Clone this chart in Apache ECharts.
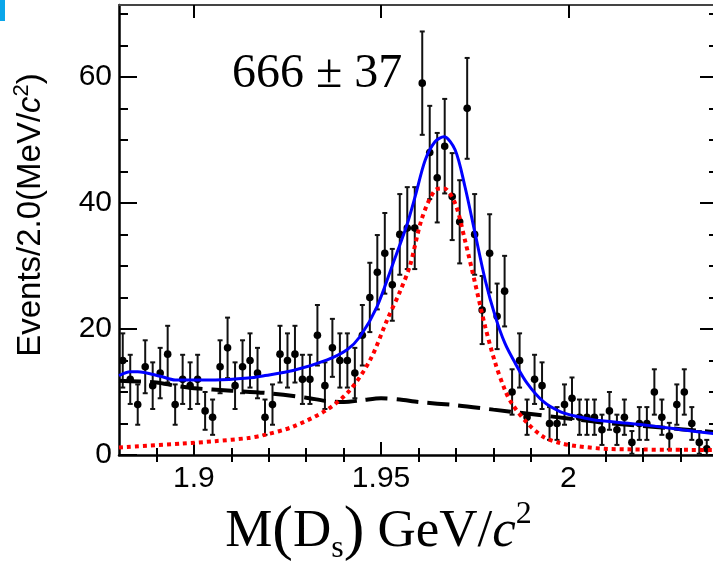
<!DOCTYPE html>
<html>
<head>
<meta charset="utf-8">
<script src="https://cdn.jsdelivr.net/npm/echarts@6/dist/echarts.min.js"></script>
<style>
  html, body { margin: 0; padding: 0; background: #fff; }
  #chart { width: 713px; height: 566px; }
</style>
</head>
<body>
<div id="chart"></div>
<script>
// Bin centres of the D_s candidate mass histogram (GeV/c^2, 2 MeV bins)
const binCenters = [
  1.881, 1.883, 1.885, 1.887, 1.889, 1.891, 1.893, 1.895, 1.897, 1.899,
  1.901, 1.903, 1.905, 1.907, 1.909, 1.911, 1.913, 1.915, 1.917, 1.919,
  1.921, 1.923, 1.925, 1.927, 1.929, 1.931, 1.933, 1.935, 1.937, 1.939,
  1.941, 1.943, 1.945, 1.947, 1.949, 1.951, 1.953, 1.955, 1.957, 1.959,
  1.961, 1.963, 1.965, 1.967, 1.969, 1.971, 1.973, 1.975, 1.977, 1.979,
  1.981, 1.983, 1.985, 1.987, 1.989, 1.991, 1.993, 1.995, 1.997, 1.999,
  2.001, 2.003, 2.005, 2.007, 2.009, 2.011, 2.013, 2.015, 2.017, 2.019,
  2.021, 2.023, 2.025, 2.027, 2.029, 2.031, 2.033, 2.035, 2.037
];
// Events per bin
const counts = [
  15, 12, 8, 14, 11, 13, 16, 8, 12, 11,
  12, 7, 6, 14, 17, 11, 14, 15, 13, 6,
  8, 16, 15, 16, 12, 12, 19, 11, 17, 15,
  15, 13, 19, 25, 29, 32, 27, 35, 36, 36,
  59, 48, 44, 49, 41, 37, 55, 35, 23, 32,
  22, 26, 10, 15, 6, 12, 11, 5, 5, 8,
  9, 6, 6, 6, 4, 7, 4, 6, 2, 5,
  5, 10, 6, 3, 8, 10, 5, 2, 1
];
// Statistical uncertainty per bin
const errors = [
  4.3, 3.9, 3.2, 4.2, 3.7, 4.0, 4.5, 3.2, 3.9, 3.7,
  3.9, 3.0, 2.8, 4.2, 4.8, 3.7, 4.2, 4.3, 4.0, 2.8,
  3.2, 4.5, 4.3, 4.5, 3.9, 3.9, 4.8, 3.7, 4.6, 4.3,
  4.3, 4.0, 4.8, 5.5, 5.9, 6.4, 5.7, 6.4, 6.5, 6.5,
  8.2, 7.4, 7.1, 7.5, 6.9, 6.6, 8.0, 6.4, 5.4, 6.2,
  5.2, 5.6, 3.6, 4.3, 2.8, 3.9, 3.7, 2.6, 2.6, 3.2,
  3.3, 2.8, 2.8, 2.8, 2.4, 3.0, 2.4, 2.8, 1.8, 2.6,
  2.6, 3.6, 2.8, 2.1, 3.2, 3.6, 2.6, 1.8, 1.4
];

// Total fit (signal + background)
const totalX = [1.880, 1.883, 1.885, 1.891, 1.895, 1.9057, 1.9145, 1.919, 1.9265, 1.9356,
                1.9409, 1.9444, 1.9489, 1.9532, 1.9569, 1.9591, 1.9618, 1.9644, 1.9668, 1.9698,
                1.9724, 1.9751, 1.9778, 1.9805, 1.9831, 1.9858, 1.9890, 1.9933, 1.9978, 2.0024,
                2.0066, 2.0130, 2.0213, 2.0304, 2.040];
const totalY = [12.6, 13.2, 13.2, 12.5, 11.9, 11.9, 12.2, 12.6, 13.4, 15.1,
                16.7, 18.8, 23.5, 30.4, 36.5, 41.0, 46.8, 49.7, 50.5, 48.4,
                42.6, 35.2, 27.8, 22.0, 17.7, 14.6, 11.4, 8.5, 6.9, 6.1,
                5.6, 5.2, 4.7, 4.0, 3.3];

// Signal shape
const signalX = [1.880, 1.8968, 1.9057, 1.9145, 1.919, 1.9265, 1.9356, 1.9417, 1.9471, 1.9516,
                 1.9551, 1.9577, 1.9609, 1.9644, 1.9668, 1.9698, 1.9724, 1.9751, 1.9778, 1.9805,
                 1.9831, 1.9850, 1.9890, 1.9933, 1.9978, 2.0024, 2.0112, 2.040];
const signalY = [1.2, 1.8, 2.2, 2.7, 3.2, 4.5, 7.2, 10.3, 15.1, 21.4,
                 26.0, 30.0, 37.5, 42.0, 42.3, 39.9, 34.1, 27.3, 20.4, 14.6,
                 10.3, 8.1, 5.1, 2.9, 1.9, 1.4, 0.95, 0.8];

// Background shape
const bkgX = [1.880, 1.890, 1.895, 1.900, 1.910, 1.920, 1.930, 1.935, 1.940, 1.945,
              1.950, 1.955, 1.960, 1.970, 1.980, 1.990, 2.000, 2.010, 2.020, 2.030, 2.040];
const bkgY = [11.8, 11.5, 11.0, 10.6, 10.2, 9.8, 9.1, 8.6, 8.4, 8.7,
              9.0, 8.8, 8.4, 7.9, 7.2, 6.5, 5.8, 5.1, 4.6, 4.1, 3.6];

// Tick positions
const xMajorTicks = [1.9, 1.95, 2.0];
const xMinorTicks = [1.89, 1.91, 1.92, 1.93, 1.94, 1.96, 1.97, 1.98, 1.99, 2.01, 2.02, 2.03];
const yMajorTicks = [0, 20, 40, 60];
const yMinorTicks = [5, 10, 15, 25, 30, 35, 45, 50, 55, 65, 70];

const X_MIN = 1.88, X_MAX = 2.04, Y_MIN = 0, Y_MAX = 71.4;

const zip = (xs, ys) => xs.map((x, i) => [x, ys[i]]);

function renderPoint(params, api) {
  const x = api.value(0), y = api.value(1), e = api.value(2);
  const c = api.coord([x, y]);
  const hi = api.coord([x, y + e]);
  const lo = api.coord([x, Math.max(y - e, 0)]);
  const cap = 2.5;
  const st = { stroke: '#111', lineWidth: 2 };
  return {
    type: 'group',
    children: [
      { type: 'line', shape: { x1: c[0], y1: hi[1], x2: c[0], y2: lo[1] }, style: st },
      { type: 'line', shape: { x1: c[0] - cap, y1: hi[1], x2: c[0] + cap, y2: hi[1] }, style: st },
      { type: 'line', shape: { x1: c[0] - cap, y1: lo[1], x2: c[0] + cap, y2: lo[1] }, style: st },
      { type: 'circle', shape: { cx: c[0], cy: c[1], r: 3.8 }, style: { fill: '#000' } }
    ]
  };
}

const axisLineStyle = { color: '#000', width: 2.5 };
const tickStyle = { color: '#000', width: 2 };
const sans = 'Liberation Sans';
const serif = 'Liberation Serif';

function xAxisDef(pos, ticks, len, labels, extra) {
  return Object.assign({
    type: 'value', gridIndex: 0, position: pos, min: X_MIN, max: X_MAX,
    axisLine: { show: true, onZero: false, lineStyle: axisLineStyle },
    axisTick: { show: true, inside: true, length: len, customValues: ticks, lineStyle: tickStyle },
    axisLabel: labels
      ? { show: true, customValues: ticks, fontSize: 30, fontFamily: sans, color: '#000', margin: 9 }
      : { show: false },
    splitLine: { show: false }
  }, extra || {});
}
function yAxisDef(pos, ticks, len, labels, extra) {
  return Object.assign({
    type: 'value', gridIndex: 0, position: pos, min: Y_MIN, max: Y_MAX,
    axisLine: { show: true, onZero: false, lineStyle: axisLineStyle },
    axisTick: { show: true, inside: true, length: len, customValues: ticks, lineStyle: tickStyle },
    axisLabel: labels
      ? { show: true, customValues: ticks, fontSize: 30, fontFamily: sans, color: '#000', margin: 7 }
      : { show: false },
    splitLine: { show: false }
  }, extra || {});
}

const chart = echarts.init(document.getElementById('chart'), null, { renderer: 'canvas' });

chart.setOption({
  backgroundColor: '#fff',
  animation: false,
  grid: { left: 119, top: 5, width: 599, height: 450, containLabel: false, outerBoundsMode: 'none' },
  xAxis: [
    xAxisDef('bottom', xMajorTicks, 13, true, {
      name: '{t|M}{p|(}{t|D}{sub|s}{p|)}{t| GeV/}{it|c}{sup|2}',
      nameLocation: 'middle',
      nameGap: 44,
      nameTextStyle: {
        padding: [0, 80, 0, 0],
        rich: {
          t: { fontFamily: serif, fontSize: 53, color: '#000', lineHeight: 66 },
          p: { fontFamily: serif, fontSize: 62, color: '#000', lineHeight: 66 },
          sub: { fontFamily: serif, fontSize: 32, color: '#000', lineHeight: 30, verticalAlign: 'bottom' },
          it: { fontFamily: serif, fontStyle: 'italic', fontSize: 53, color: '#000', lineHeight: 66 },
          sup: { fontFamily: serif, fontSize: 32, color: '#000', lineHeight: 30, verticalAlign: 'top' }
        }
      }
    }),
    xAxisDef('bottom', xMinorTicks, 7, false, { axisLine: { show: false } }),
    xAxisDef('top', xMajorTicks, 13, false, { axisLine: { show: true, onZero: false, lineStyle: { color: '#444', width: 2 } } }),
    xAxisDef('top', xMinorTicks, 7, false, { axisLine: { show: false } })
  ],
  yAxis: [
    yAxisDef('left', yMajorTicks, 18, true, {
      name: '{a|Events/2.0(MeV/}{i|c}{s|2}{a|)}',
      nameLocation: 'middle',
      nameRotate: 90,
      nameGap: 68,
      nameTextStyle: {
        padding: [0, 0, 0, 30],
        rich: {
          a: { fontFamily: sans, fontSize: 33, color: '#000', lineHeight: 40 },
          i: { fontFamily: sans, fontStyle: 'italic', fontSize: 33, color: '#000', lineHeight: 40 },
          s: { fontFamily: sans, fontSize: 22, color: '#000', lineHeight: 22, verticalAlign: 'top' }
        }
      }
    }),
    yAxisDef('left', yMinorTicks, 9, false, { axisLine: { show: false } }),
    yAxisDef('right', yMajorTicks, 18, false),
    yAxisDef('right', yMinorTicks, 9, false, { axisLine: { show: false } })
  ],
  series: [
    {
      name: 'Data',
      type: 'custom',
      xAxisIndex: 0, yAxisIndex: 0,
      renderItem: renderPoint,
      encode: { x: 0, y: 1 },
      data: binCenters.map((x, i) => [x, counts[i], errors[i]]),
      clip: true,
      z: 2
    },
    {
      name: 'Background',
      type: 'line',
      xAxisIndex: 0, yAxisIndex: 0,
      data: zip(bkgX, bkgY),
      smooth: 0.3,
      showSymbol: false,
      lineStyle: { color: '#000', width: 4, type: [22, 9] },
      z: 3
    },
    {
      name: 'Signal',
      type: 'line',
      xAxisIndex: 0, yAxisIndex: 0,
      data: zip(signalX, signalY),
      smooth: 0.3,
      showSymbol: false,
      lineStyle: { color: '#ff0000', width: 4, type: [4, 4], cap: 'butt' },
      z: 4
    },
    {
      name: 'Total fit',
      type: 'line',
      xAxisIndex: 0, yAxisIndex: 0,
      data: zip(totalX, totalY),
      smooth: 0.3,
      showSymbol: false,
      lineStyle: { color: '#0000ff', width: 3 },
      z: 5
    }
  ],
  graphic: [
    { type: 'rect', left: 0, top: 0, shape: { width: 5, height: 21 }, style: { fill: '#0aa6ea' } },
    {
      type: 'text', x: 232, y: 74,
      style: {
        text: '666 \u00b1 37', fontFamily: serif, fontSize: 48, fill: '#000',
        textAlign: 'left', textVerticalAlign: 'middle'
      }
    }
  ]
});
</script>
</body>
</html>
